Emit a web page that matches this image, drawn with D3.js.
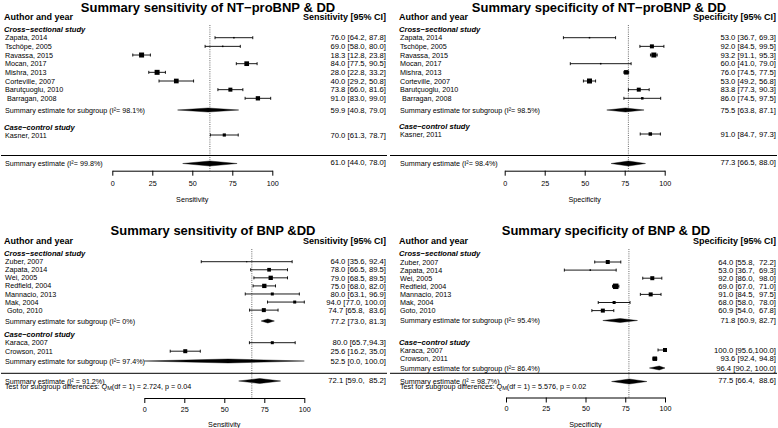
<!DOCTYPE html>
<html><head><meta charset="utf-8">
<script src="https://cdn.jsdelivr.net/npm/d3@7"></script>
<style>
body{margin:0;background:#fff}
text{font-family:"Liberation Sans",Arial,Helvetica,sans-serif;white-space:pre;fill:#000}
</style>
</head><body><svg id="c" width="778" height="428"></svg>
<script>
// ---------- DATA ----------
const ticks = [0, 25, 50, 75, 100];
const groupLabels = ["Cross\u2212sectional study", "Case\u2212control study"];

// Panel A: NT-proBNP sensitivity
const aTitle = "Summary sensitivity of NT\u2212proBNP & DD";
const aHeader = "Sensitivity [95% CI]";
const aAxis = "Sensitivity";
const aNames = ["Zapata, 2014","Tschöpe, 2005","Ravassa, 2015","Mocan, 2017","Mishra, 2013","Corteville, 2007","Barutçuoglu, 2010"," Barragan, 2008","Kasner, 2011"];
const aGroup = [0,0,0,0,0,0,0,0,1];
const aEst = [76.0,69.0,18.3,84.0,28.0,40.0,73.8,91.0,70.0];
const aLo  = [64.2,58.0,12.8,77.5,22.8,29.2,66.0,83.0,61.3];
const aHi  = [87.8,80.0,23.8,90.5,33.2,50.8,81.6,99.0,78.7];
const aWeight = [2.3,2.3,25,22,25,22,16,18.5,10];
const aCI = ["76.0 [64.2, 87.8]","69.0 [58.0, 80.0]","18.3 [12.8, 23.8]","84.0 [77.5, 90.5]","28.0 [22.8, 33.2]","40.0 [29.2, 50.8]","73.8 [66.0, 81.6]","91.0 [83.0, 99.0]","70.0 [61.3, 78.7]"];
const aSub = [{group:0, est:59.9, lo:40.8, hi:79.0, label:"Summary estimate for subgroup (I\u00b2= 98.1%)", ci:"59.9 [40.8, 79.0]"}];
const aAll = {est:61.0, lo:44.0, hi:78.0, label:"Summary estimate (I\u00b2= 99.8%)", ci:"61.0 [44.0, 78.0]"};
const aRef = 61.0;

// Panel B: NT-proBNP specificity
const bTitle = "Summary specificity of NT\u2212proBNP & DD";
const bHeader = "Specificity [95% CI]";
const bAxis = "Specificity";
const bNames = aNames;
const bGroup = aGroup;
const bEst = [53.0,92.0,93.2,60.0,76.0,53.0,83.8,86.0,91.0];
const bLo  = [36.7,84.5,91.1,41.0,74.5,49.2,77.3,74.5,84.7];
const bHi  = [69.3,99.5,95.3,79.0,77.5,56.8,90.3,97.5,97.3];
const bWeight = [2.3,16,25,2.3,20,25,16,6.3,12];
const bCI = ["53.0 [36.7, 69.3]","92.0 [84.5, 99.5]","93.2 [91.1, 95.3]","60.0 [41.0, 79.0]","76.0 [74.5, 77.5]","53.0 [49.2, 56.8]","83.8 [77.3, 90.3]","86.0 [74.5, 97.5]","91.0 [84.7, 97.3]"];
const bSub = [{group:0, est:75.5, lo:63.8, hi:87.1, label:"Summary estimate for subgroup (I\u00b2= 98.5%)", ci:"75.5 [63.8, 87.1]"}];
const bAll = {est:77.3, lo:66.5, hi:88.0, label:"Summary estimate (I\u00b2= 98.4%)", ci:"77.3 [66.5, 88.0]"};
const bRef = 77.3;

// Panel C: BNP sensitivity
const cTitle = "Summary sensitivity of BNP &DD";
const cHeader = "Sensitivity [95% CI]";
const cAxis = "Sensitivity";
const cNames = ["Zuber, 2007","Zapata, 2014","Wei, 2005","Redfield, 2004","Mannacio, 2013","Mak, 2004"," Goto, 2010","Karaca, 2007","Crowson, 2011"];
const cGroup = [0,0,0,0,0,0,0,1,1];
const cEst = [64.0,78.0,79.0,75.0,80.0,94.0,74.7,80.0,25.6];
const cLo  = [35.6,66.5,68.5,68.0,63.1,77.0,65.8,65.7,16.2];
const cHi  = [92.4,89.5,89.5,82.0,96.9,100.0,83.6,94.3,35.0];
const cWeight = [1.4,13.7,18.5,18.5,9,9,16,9,16];
const cCI = ["64.0 [35.6, 92.4]","78.0 [66.5, 89.5]","79.0 [68.5, 89.5]","75.0 [68.0, 82.0]","80.0 [63.1, 96.9]","94.0 [77.0, 100.0]","74.7 [65.8,  83.6]","80.0 [65.7,94.3]","25.6 [16.2, 35.0]"];
const cSub = [{group:0, est:77.2, lo:73.0, hi:81.3, label:"Summary estimate for subgroup (I\u00b2= 0%)", ci:"77.2 [73.0, 81.3]"},
              {group:1, est:52.5, lo:0.0, hi:100.0, label:"Summary estimate for subgroup (I\u00b2= 97.4%)", ci:"52.5 [0.0, 100.0]"}];
const cAll = {est:72.1, lo:59.0, hi:85.2, label:"Summary estimate (I\u00b2 = 91.2%)", ci:"72.1 [59.0,  85.2]"};
const cTest = ["Test for subgroup differences: Q", "M", "(df = 1) = 2.724, p = 0.04"];
const cRef = 67.2;

// Panel D: BNP specificity
const dTitle = "Summary specificity of BNP & DD";
const dHeader = "Specificity [95% CI]";
const dAxis = "Specificity";
const dNames = ["Zuber, 2007","Zapata, 2014","Wei, 2005","Redfield, 2004","Mannacio, 2013","Mak, 2004","Goto, 2010","Karaca, 2007","Crowson, 2011"];
const dGroup = cGroup;
const dEst = [64.0,53.0,92.0,69.0,91.0,68.0,60.9,100.0,93.6];
const dLo  = [55.8,36.7,86.0,67.0,84.5,58.0,54.0,95.6,92.4];
const dHi  = [72.2,69.3,98.0,71.0,97.5,78.0,67.8,100.0,94.8];
const dWeight = [16,2.3,16,30,16,9,16,16,20];
const dCI = ["64.0 [55.8,  72.2]","53.0 [36.7,  69.3]","92.0 [86.0,  98.0]","69.0 [67.0,  71.0]","91.0 [84.5,  97.5]","68.0 [58.0,  78.0]","60.9 [54.0,  67.8]","100.0 [95.6,100.0]","93.6 [92.4, 94.8]"];
const dSub = [{group:0, est:71.8, lo:60.9, hi:82.7, label:"Summary estimate for subgroup (I\u00b2= 95.4%)", ci:"71.8 [60.9, 82.7]"},
              {group:1, est:96.4, lo:90.2, hi:100.0, label:"Summary estimate for subgroup (I\u00b2= 86.4%)", ci:"96.4 [90.2, 100.0]"}];
const dAll = {est:77.5, lo:66.4, hi:88.6, label:"Summary estimate (I\u00b2 = 98.7%)", ci:"77.5 [66.4,  88.6]"};
const dTest = ["Test for subgroup differences: Q", "M", "(df = 1) = 5.576, p = 0.02"];
const dRef = 77.3;

// ---------- LAYOUT ----------
const LA = {xr:[112.3,272.3], txtL:4, txtR:386, titleX:208, titleY:7, headY:17, groupY:[29,127], start:[37.7,135], step:[8.66,8.66],
            subY:[110,null], sep:155.5, overall:163.5, testY:null, axis:170.7, tickPad:5.5, axisTitleY:199, refTop:25, lineL:1, lineR:387};
const LB = Object.assign({}, LA, {xr:[504.7,664.7], txtL:399, txtR:776, titleX:599, groupY:[29,126], start:[37.7,134], lineL:390, lineR:777});
const LC = {xr:[144.3,304.3], txtL:4, txtR:386, titleX:213, titleY:230.5, headY:241, groupY:[253.3,334], start:[261.7,342.7], step:[8.07,8.5],
            subY:[321,361], sep:373.3, overall:381, testY:386, axis:398, tickPad:3.5, axisTitleY:424.3, refTop:249, lineL:1, lineR:387};
const LD = Object.assign({}, LC, {xr:[506,665], txtL:399, txtR:776, titleX:606, groupY:[253.3,342.3], start:[262,350], step:[8.1,8.7],
            subY:[320.5,368], overall:381.5, axis:397.5, lineL:390, lineR:777});

// ---------- DRAW ----------
const svg = d3.select("#c");
const FS = 7.2, FSCI = 7.7;

function T(g, x, y, s, o = {}) {
  return g.append("text").attr("x", x).attr("y", y).attr("dy", "0.35em")
    .attr("font-size", o.size || FS)
    .attr("font-weight", o.weight || null)
    .attr("font-style", o.style || null)
    .attr("text-anchor", o.anchor || "start")
    .text(s);
}

function diamond(g, x, est, lo, hi, y, h) {
  const p = d3.path();
  p.moveTo(x(lo), y); p.lineTo(x(est), y - h); p.lineTo(x(hi), y); p.lineTo(x(est), y + h); p.closePath();
  g.append("path").attr("d", p.toString()).attr("fill", "#000").attr("stroke", "#000").attr("stroke-width", 0.4);
}

function panel(P, L) {
  const g = svg.append("g");
  const x = d3.scaleLinear().domain([0, 100]).range(L.xr);
  const box = d3.scaleSqrt().domain([0, 25]).range([0, 5]);

  T(g, L.titleX, L.titleY, P.title, {size:13, weight:"bold", anchor:"middle"});
  T(g, L.txtL, L.headY, "Author and year", {size:9, weight:"bold"});
  T(g, L.txtR, L.headY, P.header, {size:9, weight:"bold", anchor:"end"});

  // reference line
  g.append("line").attr("x1", x(P.ref)).attr("x2", x(P.ref)).attr("y1", L.refTop).attr("y2", L.axis)
    .attr("stroke", "#444").attr("stroke-width", 0.8).attr("stroke-dasharray", "1,1.2");

  // group labels
  [0, 1].forEach(k => T(g, L.txtL, L.groupY[k], groupLabels[k], {size:7.6, weight:"bold", style:"italic"}));

  // study rows
  const cnt = [0, 0];
  const rows = P.names.map((n, i) => {
    const k = P.group[i];
    const y = L.start[k] + cnt[k]++ * L.step[k];
    return {name:n, est:P.est[i], lo:P.lo[i], hi:P.hi[i], w:P.weight[i], ci:P.ci[i], y};
  });
  rows.forEach(r => {
    T(g, L.txtL + 1, r.y, r.name);
    T(g, L.txtR, r.y, r.ci, {size:FSCI, anchor:"end"});
    g.append("line").attr("x1", x(r.lo)).attr("x2", x(r.hi)).attr("y1", r.y).attr("y2", r.y)
      .attr("stroke", "#000").attr("stroke-width", 0.9);
    [r.lo, r.hi].forEach(v => g.append("line").attr("x1", x(v)).attr("x2", x(v))
      .attr("y1", r.y - 1.5).attr("y2", r.y + 1.5).attr("stroke", "#000").attr("stroke-width", 0.9));
    const s = box(r.w);
    g.append("rect").attr("x", x(r.est) - s / 2).attr("y", r.y - s / 2).attr("width", s).attr("height", s).attr("fill", "#000");
  });

  // subgroup summaries
  P.sub.forEach(sb => {
    const y = L.subY[sb.group];
    T(g, L.txtL + 1, y, sb.label);
    T(g, L.txtR, y, sb.ci, {size:FSCI, anchor:"end"});
    diamond(g, x, sb.est, sb.lo, sb.hi, y, 2);
  });

  // separator
  g.append("line").attr("x1", L.lineL).attr("x2", L.lineR).attr("y1", L.sep).attr("y2", L.sep)
    .attr("stroke", "#000").attr("stroke-width", 1);

  // overall
  T(g, L.txtL + 1, L.overall, P.all.label);
  T(g, L.txtR, L.overall - 0.8, P.all.ci, {size:FSCI, anchor:"end"});
  diamond(g, x, P.all.est, P.all.lo, P.all.hi, L.overall, 2.5);
  if (P.test) {
    const t = T(g, L.txtL + 1, L.testY, "");
    t.append("tspan").text(P.test[0]);
    t.append("tspan").attr("dy", 1.8).attr("font-size", 5.6).text(P.test[1]);
    t.append("tspan").attr("dy", -1.8).text(P.test[2]);
  }

  // axis
  const ax = g.append("g").attr("transform", `translate(0,${L.axis})`)
    .call(d3.axisBottom(x).tickValues(ticks).tickSize(5).tickSizeOuter(0).tickPadding(L.tickPad));
  ax.selectAll("text").attr("font-size", FS).attr("font-family", null);
  ax.selectAll("line,path").attr("stroke", "#000").attr("stroke-width", 1);
  T(g, (L.xr[0] + L.xr[1]) / 2, L.axisTitleY, P.axisTitle, {anchor:"middle"});
}

panel({title:aTitle, header:aHeader, axisTitle:aAxis, names:aNames, group:aGroup, est:aEst, lo:aLo, hi:aHi, weight:aWeight, ci:aCI, sub:aSub, all:aAll, ref:aRef}, LA);
panel({title:bTitle, header:bHeader, axisTitle:bAxis, names:bNames, group:bGroup, est:bEst, lo:bLo, hi:bHi, weight:bWeight, ci:bCI, sub:bSub, all:bAll, ref:bRef}, LB);
panel({title:cTitle, header:cHeader, axisTitle:cAxis, names:cNames, group:cGroup, est:cEst, lo:cLo, hi:cHi, weight:cWeight, ci:cCI, sub:cSub, all:cAll, ref:cRef, test:cTest}, LC);
panel({title:dTitle, header:dHeader, axisTitle:dAxis, names:dNames, group:dGroup, est:dEst, lo:dLo, hi:dHi, weight:dWeight, ci:dCI, sub:dSub, all:dAll, ref:dRef, test:dTest}, LD);
</script></body></html>
